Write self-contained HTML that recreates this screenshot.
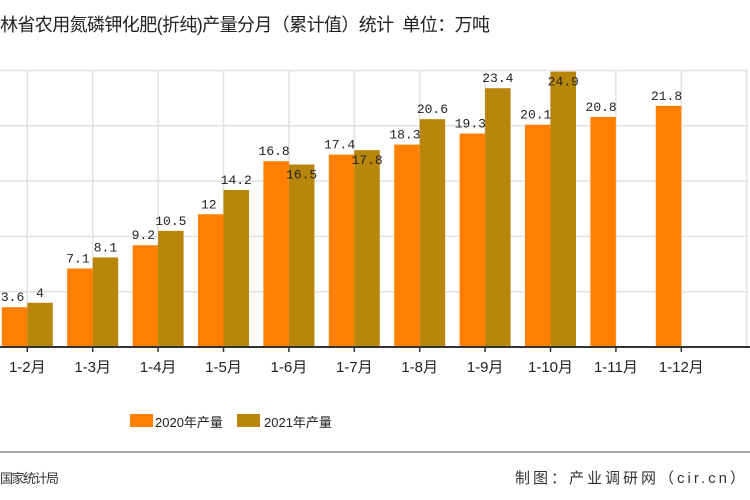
<!DOCTYPE html>
<html><head><meta charset="utf-8">
<style>
html,body{margin:0;padding:0;background:#fff;}
body{width:750px;height:500px;overflow:hidden;position:relative;font-family:"Liberation Sans","Noto Sans CJK SC",sans-serif;}
.t{position:absolute;white-space:nowrap;}
</style></head><body>
<div class="t" style="left:0;top:11px;font-size:18px;color:#222;letter-spacing:-0.6px;">林省农用氮磷钾化肥(折纯)产量分月（累计值）统计&nbsp; 单位：万吨</div>
<svg id="chart" width="750" height="400" style="position:absolute;left:0;top:0;"></svg>
<div>
<div style="position:absolute;left:130px;top:414px;width:23px;height:13px;background:#ff8000;"></div>
<div class="t" style="left:155px;top:412px;font-size:13px;color:#222;">2020年产量</div>
<div style="position:absolute;left:237px;top:414px;width:23px;height:13px;background:#b8860b;"></div>
<div class="t" style="left:264px;top:412px;font-size:13px;color:#222;">2021年产量</div>
</div>
<div style="position:absolute;left:0;top:451px;width:750px;height:2px;background:#aaa;"></div>
<div class="t" style="left:0;top:468px;font-size:13px;color:#333;letter-spacing:-1.5px;">国家统计局</div>
<div class="t" style="right:2px;top:467px;font-size:15px;color:#333;letter-spacing:3px;">制图：产业调研网（cir.cn）</div>
<script>
const categories=["1-2月","1-3月","1-4月","1-5月","1-6月","1-7月","1-8月","1-9月","1-10月","1-11月","1-12月"];
const values2020=[3.6,7.1,9.2,12,16.8,17.4,18.3,19.3,20.1,20.8,21.8];
const values2021=[4,8.1,10.5,14.2,16.5,17.8,20.6,23.4,24.9,null,null];
const yTicks=[0,5,10,15,20,25];
const svg=document.getElementById('chart');
const NS='http://www.w3.org/2000/svg';
const x0=27.3,step=65.4,bw=25.5,base=347,plotTop=70.5,ymax=25;
function xs(i){return x0+step*i;}
function ys(v){return base-(base-plotTop)*v/ymax;}
function mk(t,a){const e=document.createElementNS(NS,t);for(const k in a)e.setAttribute(k,a[k]);svg.appendChild(e);return e;}
yTicks.forEach(v=>{if(v===0)return;const l=mk('line',{x1:0,x2:748,y1:ys(v),y2:ys(v),stroke:'#e2e2e2','stroke-width':1.5});

});
for(let i=-1;i<=categories.length;i++){const l=mk('line',{x1:xs(i),x2:xs(i),y1:plotTop,y2:base,stroke:'#e2e2e2','stroke-width':1.5});

}
function label(x,y,s){const t=mk('text',{x:x,y:y,'text-anchor':'middle','font-size':13,fill:'#222','font-family':'Liberation Mono,monospace'});t.textContent=s;

}
categories.forEach((c,i)=>{
 const v1=values2020[i];
 if(v1!=null){const r=mk('rect',{x:xs(i)-bw,y:ys(v1),width:bw,height:base-ys(v1),fill:'#ff8000'});
 
 
 label(xs(i)-bw/2-2,ys(v1)-6,String(v1));}
 const v2=values2021[i];
 if(v2!=null){const r=mk('rect',{x:xs(i),y:ys(v2),width:bw,height:base-ys(v2),fill:'#b8860b'});
 
 
 const inside=(i===4||i===5||i===8);
 label(xs(i)+bw/2,ys(v2)+(inside?14:-6),String(v2));}
 const tk=mk('line',{x1:xs(i),x2:xs(i),y1:base,y2:base+5,stroke:'#333','stroke-width':1.5});
 
 
 const t=mk('text',{x:xs(i),y:base+25,'text-anchor':'middle','font-size':15,fill:'#222'});t.textContent=c;
 
 
});
const ax=mk('line',{x1:0,x2:750,y1:base,y2:base,stroke:'#333','stroke-width':2});


</script>
</body></html>
